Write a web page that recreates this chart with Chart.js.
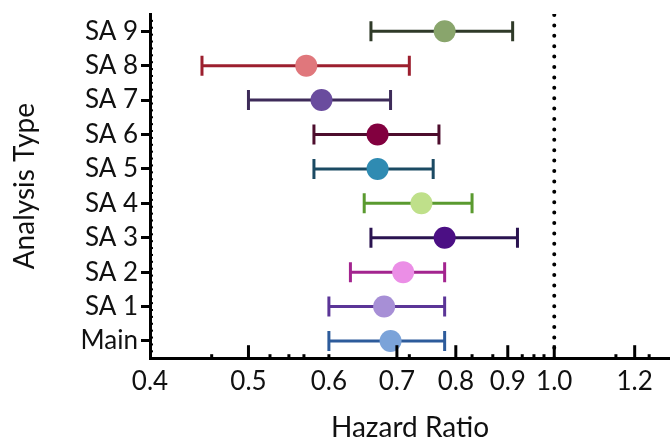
<!DOCTYPE html>
<html>
<head>
<meta charset="utf-8">
<script src="https://cdn.jsdelivr.net/npm/chart.js@4"></script>
<style>
  html, body { margin: 0; padding: 0; background: #fff; overflow: hidden; }
  canvas { display: block; }
</style>
</head>
<body>
<canvas id="myChart" width="670" height="441"></canvas>
<script>
// categories, bottom to top
const categories = ['Main', 'SA 1', 'SA 2', 'SA 3', 'SA 4', 'SA 5', 'SA 6', 'SA 7', 'SA 8', 'SA 9'];
const hazard = [0.69, 0.68, 0.71, 0.78, 0.74, 0.67, 0.67, 0.59, 0.57, 0.78];
const lower  = [0.60, 0.60, 0.63, 0.66, 0.65, 0.58, 0.58, 0.50, 0.45, 0.66];
const upper  = [0.78, 0.78, 0.78, 0.92, 0.83, 0.76, 0.77, 0.69, 0.72, 0.91];

const lineColors  = ['#2d5b9b', '#5b3597', '#a3248f', '#2a1350', '#5a9a2f', '#1b4a63', '#4d0d2d', '#3d2b59', '#9c1f2e', '#2f3a28'];
const pointColors = ['#7ba3d9', '#a78fd6', '#eb8ee6', '#4b0f84', '#bfe08a', '#2f8bb2', '#82003f', '#6a4c9e', '#e0777c', '#89a56c'];

const xTicks = [0.4, 0.5, 0.6, 0.7, 0.8, 0.9, 1.0, 1.2];
const xMajorMarks = [0.5, 0.7, 0.8, 0.9, 1.0, 1.2];
const xMinorMarks = [0.46, 0.525, 0.548, 0.567, 0.6, 0.72, 0.83, 0.87, 0.93, 0.955, 0.977, 1.15, 1.24];

const tickFont = { family: 'Lato', size: 26 };
const titleFont = { family: 'Lato', size: 28 };

// point markers first so they end up on top
const datasets = [{
  label: 'HR',
  data: hazard.map((v, i) => ({ x: v, y: i })),
  pointRadius: 11,
  pointHoverRadius: 11,
  pointBackgroundColor: pointColors,
  pointBorderColor: pointColors,
  pointBorderWidth: 0,
  showLine: false
}];

categories.forEach((c, i) => {
  datasets.push({
    label: c + ' CI',
    data: [{ x: lower[i], y: i }, { x: upper[i], y: i }],
    showLine: true,
    borderColor: lineColors[i],
    borderWidth: 3,
    pointStyle: 'line',
    rotation: 90,
    pointRadius: 10,
    pointHoverRadius: 10,
    pointBorderColor: lineColors[i],
    pointBorderWidth: 3
  });
});

// reference line at HR = 1
datasets.push({
  label: 'ref',
  data: [{ x: 1, y: -0.5 }, { x: 1, y: 9.5 }],
  showLine: true,
  borderColor: '#000',
  borderWidth: 4,
  borderDash: [0, 10.4],
  borderCapStyle: 'round',
  pointRadius: 0
});

const tickMarks = {
  id: 'tickMarks',
  afterDatasetsDraw(chart) {
    const ctx = chart.ctx;
    const x = chart.scales.x;
    const y = chart.scales.y;
    const bottom = chart.chartArea.bottom;
    const left = chart.chartArea.left;
    ctx.save();
    ctx.strokeStyle = '#000';
    ctx.lineWidth = 3;
    xMajorMarks.forEach(v => {
      const px = x.getPixelForValue(v);
      ctx.beginPath();
      ctx.moveTo(px, bottom);
      ctx.lineTo(px, bottom - 13);
      ctx.stroke();
    });
    xMinorMarks.forEach(v => {
      const px = x.getPixelForValue(v);
      ctx.beginPath();
      ctx.moveTo(px, bottom);
      ctx.lineTo(px, bottom - 4);
      ctx.stroke();
    });
    ctx.lineWidth = 2;
    for (let i = -0.5; i < 9.5; i += 0.2) {
      const py = y.getPixelForValue(i);
      ctx.beginPath();
      ctx.moveTo(left, py);
      ctx.lineTo(left + 3, py);
      ctx.stroke();
    }
    ctx.restore();
  }
};

const config = {
  type: 'scatter',
  data: { datasets: datasets },
  options: {
    responsive: false,
    animation: false,
    layout: { autoPadding: false, padding: { top: 14, right: 0, left: 8, bottom: -4 } },
    plugins: { legend: { display: false }, tooltip: { enabled: false } },
    scales: {
      x: {
        type: 'logarithmic',
        min: 0.4,
        max: 1.3,
        afterBuildTicks: s => { s.ticks = xTicks.map(v => ({ value: v })); },
        afterFit: s => { s.paddingRight = 0; s.paddingLeft = 0; },
        grid: { display: false },
        border: { display: true, color: '#000', width: 3 },
        ticks: {
          color: '#111',
          font: tickFont,
          padding: 0,
          autoSkip: false,
          maxRotation: 0,
          callback: v => Number(v).toFixed(1)
        },
        title: { display: true, text: 'Hazard Ratio', color: '#111', font: titleFont, padding: { top: 14, bottom: 0 } }
      },
      y: {
        type: 'linear',
        min: -0.5,
        max: 9.5,
        afterBuildTicks: s => { s.ticks = categories.map((c, i) => ({ value: i })); },
        afterFit: s => { s.paddingTop = 0; s.paddingBottom = 0; },
        grid: { display: true, drawOnChartArea: false, drawTicks: true, tickLength: 9, tickWidth: 3, tickColor: '#000' },
        border: { display: true, color: '#000', width: 3 },
        ticks: {
          color: '#111',
          font: tickFont,
          padding: 3,
          autoSkip: false,
          callback: v => categories[v]
        },
        title: { display: true, text: 'Analysis Type', color: '#111', font: titleFont, padding: { top: 0, bottom: 36 } }
      }
    }
  },
  plugins: [tickMarks]
};

var myChart = new Chart(document.getElementById('myChart'), config);
</script>
</body>
</html>
